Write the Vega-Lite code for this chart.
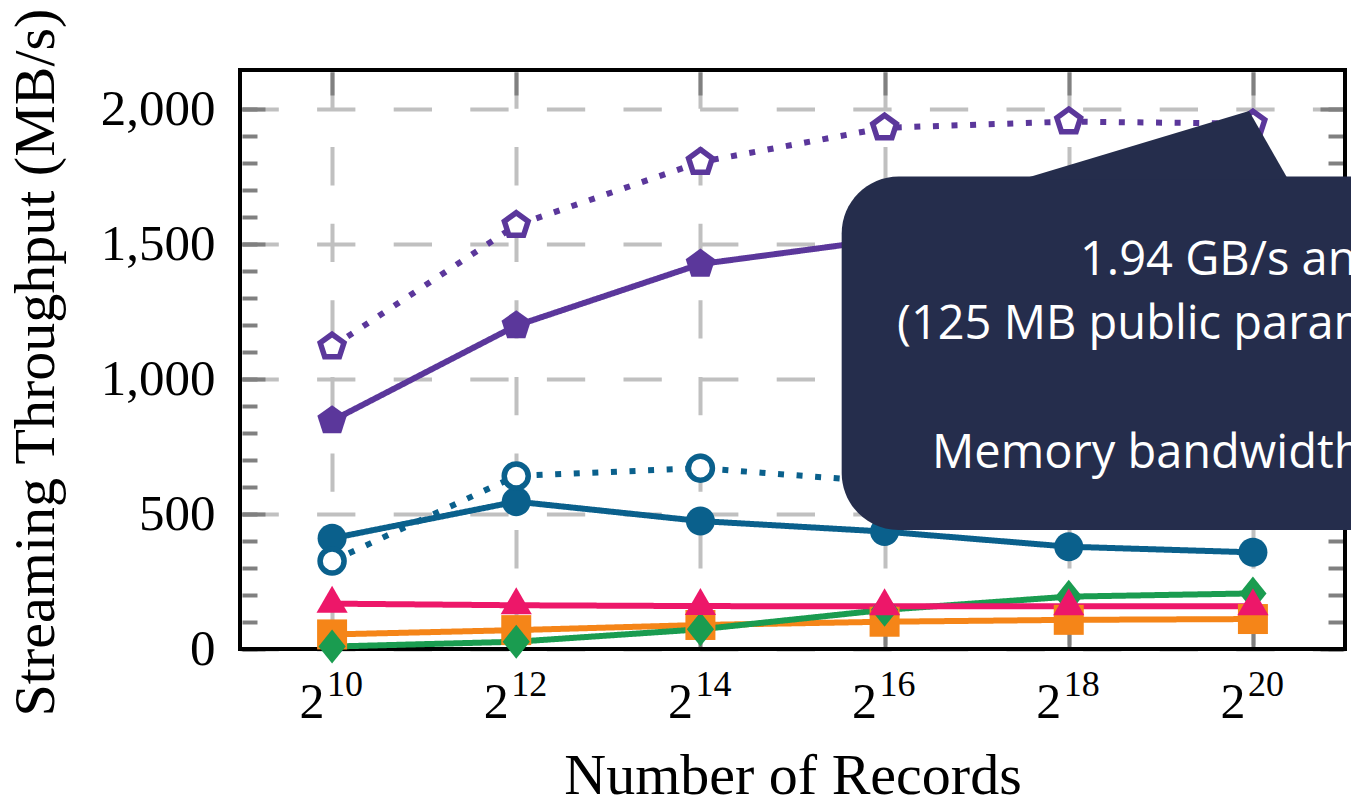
{
  "$schema": "https://vega.github.io/schema/vega-lite/v6.json",
  "width": 1105,
  "height": 579,
  "autosize": {"type": "none"},
  "padding": {"left": 240, "top": 70, "right": 6, "bottom": 154},
  "background": "white",
  "config": {
    "view": {"stroke": null},
    "axis": {
      "labelFont": "Liberation Serif",
      "titleFont": "Liberation Serif",
      "labelColor": "black",
      "titleColor": "black",
      "titleFontWeight": "normal",
      "labelOverlap": false,
      "labelFlush": false,
      "domain": false
    }
  },
  "datasets": {
    "series": [
      {"series": "sq", "x": 10, "y": 54}, {"series": "sq", "x": 12, "y": 70}, {"series": "sq", "x": 14, "y": 89},
      {"series": "sq", "x": 16, "y": 101}, {"series": "sq", "x": 18, "y": 108}, {"series": "sq", "x": 20, "y": 111},
      {"series": "dia", "x": 10, "y": 9}, {"series": "dia", "x": 12, "y": 27}, {"series": "dia", "x": 14, "y": 73},
      {"series": "dia", "x": 16, "y": 145}, {"series": "dia", "x": 18, "y": 194}, {"series": "dia", "x": 20, "y": 206},
      {"series": "tri", "x": 10, "y": 168}, {"series": "tri", "x": 12, "y": 162}, {"series": "tri", "x": 14, "y": 159},
      {"series": "tri", "x": 16, "y": 158}, {"series": "tri", "x": 18, "y": 158}, {"series": "tri", "x": 20, "y": 158},
      {"series": "circ_solid", "x": 10, "y": 410}, {"series": "circ_solid", "x": 12, "y": 546}, {"series": "circ_solid", "x": 14, "y": 474},
      {"series": "circ_solid", "x": 16, "y": 435}, {"series": "circ_solid", "x": 18, "y": 379}, {"series": "circ_solid", "x": 20, "y": 358},
      {"series": "circ_dotted", "x": 10, "y": 326}, {"series": "circ_dotted", "x": 12, "y": 641}, {"series": "circ_dotted", "x": 14, "y": 670},
      {"series": "circ_dotted", "x": 16, "y": 619}, {"series": "circ_dotted", "x": 18, "y": 600}, {"series": "circ_dotted", "x": 20, "y": 590},
      {"series": "pent_solid", "x": 10, "y": 846}, {"series": "pent_solid", "x": 12, "y": 1198}, {"series": "pent_solid", "x": 14, "y": 1426},
      {"series": "pent_solid", "x": 16, "y": 1517}, {"series": "pent_solid", "x": 18, "y": 1560}, {"series": "pent_solid", "x": 20, "y": 1580},
      {"series": "pent_dotted", "x": 10, "y": 1120}, {"series": "pent_dotted", "x": 12, "y": 1570}, {"series": "pent_dotted", "x": 14, "y": 1804},
      {"series": "pent_dotted", "x": 16, "y": 1931}, {"series": "pent_dotted", "x": 18, "y": 1954}, {"series": "pent_dotted", "x": 20, "y": 1946}
    ],
    "frame": [{"x": 9, "x2": 21, "y": 0, "y2": 2145}],
    "box": [{"x": 15.534, "x2": 22.5, "y": 441, "y2": 1750}],
    "pointer": [
      {"x": 17.493, "y": 1740, "y2": 1740},
      {"x": 19.958, "y": 1993, "y2": 1740},
      {"x": 20.381, "y": 1740, "y2": 1740}
    ],
    "note": [
      {"x": 18.122, "y": 1385.6, "text": "1.94 GB/s and"},
      {"x": 16.135, "y": 1148.4, "text": "(125 MB public parameters)"},
      {"x": 16.515, "y": 670.5, "text": "Memory bandwidth"}
    ]
  },
  "resolve": {"axis": {"x": "independent", "y": "independent"}},
  "layer": [
    {
      "data": {"name": "frame"},
      "mark": {"type": "rect", "filled": false, "stroke": "black", "strokeWidth": 4, "fillOpacity": 0},
      "encoding": {
        "x": {
          "field": "x", "type": "quantitative",
          "scale": {"domain": [9, 21], "nice": false, "zero": false},
          "axis": {
            "orient": "bottom", "values": [10, 12, 14, 16, 18, 20], "labelExpr": "'2'",
            "labelFontSize": 50, "labelBaseline": "alphabetic", "labelAlign": "center",
            "labelPadding": 68, "labelOffset": -20.5, "ticks": false, "tickSize": 0,
            "grid": true, "gridColor": "#c0c0c0", "gridWidth": 4, "gridDash": [38.3, 38.3],
            "title": "Number of Records", "titleFontSize": 58, "titleX": 552.5, "titleY": 144,
            "titleBaseline": "alphabetic", "titleAlign": "center"
          }
        },
        "x2": {"field": "x2"},
        "y": {
          "field": "y", "type": "quantitative",
          "scale": {"domain": [0, 2145], "nice": false, "zero": false},
          "axis": {
            "orient": "left", "values": [0, 500, 1000, 1500, 2000], "format": ",d",
            "labelFontSize": 51, "labelPadding": 25, "ticks": false, "tickSize": 0,
            "grid": true, "gridColor": "#c0c0c0", "gridWidth": 4, "gridDash": [38.3, 38.3],
            "title": "Streaming Throughput (MB/s)", "titleFontSize": 58, "titleX": -187, "titleY": 292,
            "titleBaseline": "alphabetic", "titleAlign": "center", "titleAngle": -90
          }
        },
        "y2": {"field": "y2"}
      }
    },
    {
      "data": {"name": "series"},
      "mark": {"type": "line", "strokeWidth": 6, "strokeCap": "butt", "strokeJoin": "round"},
      "encoding": {
        "x": {
          "field": "x", "type": "quantitative",
          "axis": {
            "orient": "bottom", "values": [10, 12, 14, 16, 18, 20], "format": "d",
            "labelFontSize": 36, "labelBaseline": "alphabetic", "labelAlign": "center",
            "labelPadding": 46, "labelOffset": 12.5, "ticks": false, "tickSize": 0, "grid": false, "title": null
          }
        },
        "y": {
          "field": "y", "type": "quantitative",
          "axis": {
            "orient": "left", "values": [0, 500, 1000, 1500, 2000], "labels": false, "ticks": true,
            "tickSize": 23, "tickWidth": 4, "tickColor": "#808080", "offset": -25, "grid": false, "title": null
          }
        },
        "stroke": {
          "field": "series", "type": "nominal", "legend": null,
          "scale": {
            "domain": ["sq", "dia", "tri", "circ_solid", "circ_dotted", "pent_solid", "pent_dotted"],
            "range": ["#f58518", "#1a9c50", "#ed1769", "#0a608c", "#0a608c", "#5b379b", "#5b379b"]
          }
        },
        "strokeDash": {
          "condition": {"test": "datum.series === 'circ_dotted' || datum.series === 'pent_dotted'", "value": [6, 12.6]},
          "value": [1, 0]
        }
      }
    },
    {
      "data": {"name": "series"},
      "mark": {"type": "point", "size": 1296, "opacity": 1},
      "encoding": {
        "x": {
          "field": "x", "type": "quantitative",
          "axis": {
            "orient": "bottom", "values": [10, 12, 14, 16, 18, 20], "labels": false, "ticks": true,
            "tickSize": 23, "tickWidth": 4, "tickColor": "#808080", "offset": -25, "grid": false, "title": null
          }
        },
        "y": {
          "field": "y", "type": "quantitative",
          "axis": {
            "orient": "left", "values": [0, 100, 200, 300, 400, 500, 600, 700, 800, 900, 1000, 1100, 1200, 1300, 1400, 1500, 1600, 1700, 1800, 1900, 2000],
            "labels": false, "ticks": true, "tickSize": 15, "tickWidth": 4, "tickColor": "#808080",
            "offset": -17, "grid": false, "title": null
          }
        },
        "shape": {
          "field": "series", "type": "nominal", "legend": null,
          "scale": {
            "domain": ["sq", "dia", "tri", "circ_solid", "circ_dotted", "pent_solid", "pent_dotted"],
            "range": [
              "M-0.833,-0.833L0.833,-0.833L0.833,0.833L-0.833,0.833Z",
              "M0,-0.944L0.756,0L0,0.944L-0.756,0Z",
              "M0,-1L0.866,0.5L-0.866,0.5Z",
              "M-0.806,0A0.806,0.806 0 1,0 0.806,0A0.806,0.806 0 1,0 -0.806,0Z",
              "M-0.667,0A0.667,0.667 0 1,0 0.667,0A0.667,0.667 0 1,0 -0.667,0Z",
              "M0,-0.861L0.819,-0.266L0.506,0.697L-0.506,0.697L-0.819,-0.266Z",
              "M0,-0.694L0.66,-0.214L0.408,0.561L-0.408,0.561L-0.66,-0.214Z"
            ]
          }
        },
        "fill": {
          "condition": {"test": "datum.series === 'circ_dotted' || datum.series === 'pent_dotted'", "value": "white"},
          "field": "series", "type": "nominal", "legend": null,
          "scale": {
            "domain": ["sq", "dia", "tri", "circ_solid", "circ_dotted", "pent_solid", "pent_dotted"],
            "range": ["#f58518", "#1a9c50", "#ed1769", "#0a608c", "#0a608c", "#5b379b", "#5b379b"]
          }
        },
        "stroke": {
          "field": "series", "type": "nominal", "legend": null,
          "scale": {
            "domain": ["sq", "dia", "tri", "circ_solid", "circ_dotted", "pent_solid", "pent_dotted"],
            "range": ["#f58518", "#1a9c50", "#ed1769", "#0a608c", "#0a608c", "#5b379b", "#5b379b"]
          }
        },
        "strokeWidth": {
          "condition": {"test": "datum.series === 'circ_dotted' || datum.series === 'pent_dotted'", "value": 5.5},
          "value": 0
        }
      }
    },
    {
      "data": {"name": "box"},
      "mark": {"type": "rect", "fill": "#252d4c", "cornerRadius": 57},
      "encoding": {
        "x": {
          "field": "x", "type": "quantitative",
          "axis": {
            "orient": "top", "values": [10, 12, 14, 16, 18, 20], "labels": false, "ticks": true,
            "tickSize": 23, "tickWidth": 4, "tickColor": "#808080", "offset": -25, "grid": false, "title": null
          }
        },
        "x2": {"field": "x2"},
        "y": {
          "field": "y", "type": "quantitative",
          "axis": {
            "orient": "right", "values": [0, 500, 1000, 1500, 2000], "labels": false, "ticks": true,
            "tickSize": 23, "tickWidth": 4, "tickColor": "#808080", "offset": -25, "grid": false, "title": null
          }
        },
        "y2": {"field": "y2"}
      }
    },
    {
      "data": {"name": "pointer"},
      "mark": {"type": "area", "fill": "#252d4c", "opacity": 1},
      "encoding": {
        "x": {"field": "x", "type": "quantitative", "axis": null},
        "y": {
          "field": "y", "type": "quantitative",
          "axis": {
            "orient": "right", "values": [0, 100, 200, 300, 400, 500, 600, 700, 800, 900, 1000, 1100, 1200, 1300, 1400, 1500, 1600, 1700, 1800, 1900, 2000],
            "labels": false, "ticks": true, "tickSize": 15, "tickWidth": 4, "tickColor": "#808080",
            "offset": -17, "grid": false, "title": null
          }
        },
        "y2": {"field": "y2"}
      }
    },
    {
      "data": {"name": "note"},
      "mark": {"type": "text", "align": "left", "baseline": "alphabetic", "font": "Open Sans", "fontSize": 47, "color": "white"},
      "encoding": {
        "x": {"field": "x", "type": "quantitative", "axis": null},
        "y": {"field": "y", "type": "quantitative", "axis": null},
        "text": {"field": "text"}
      }
    }
  ]
}
